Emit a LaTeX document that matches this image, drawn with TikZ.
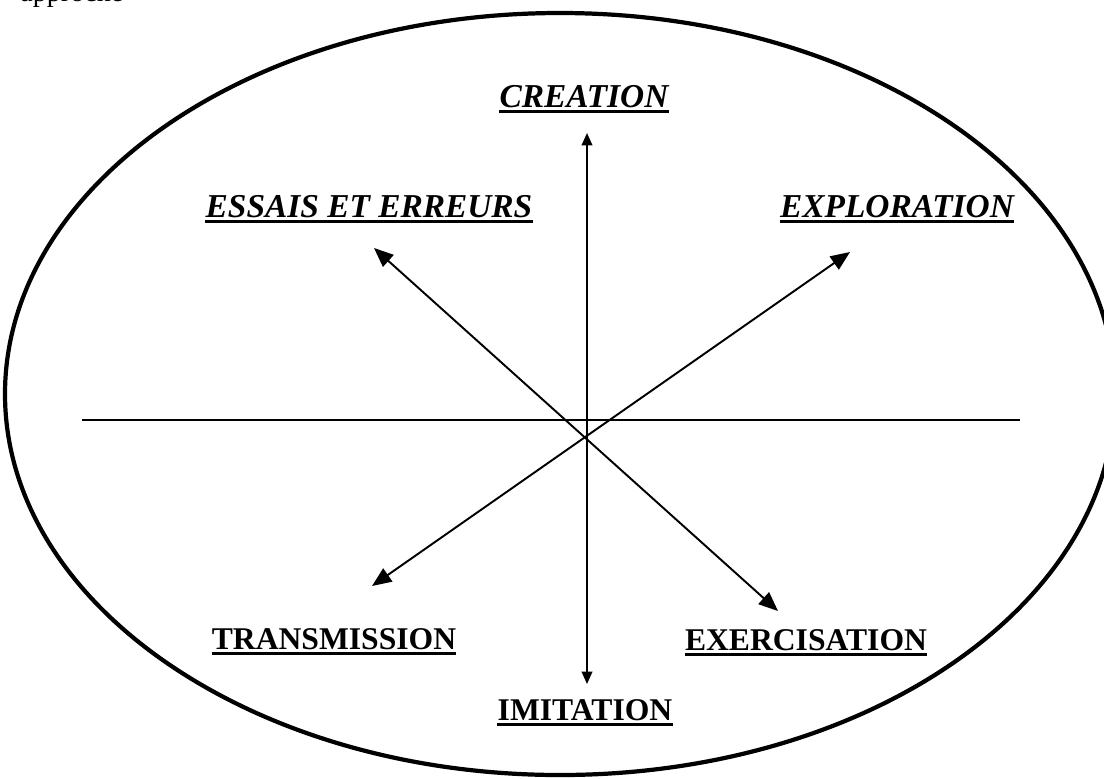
\documentclass[tikz,border=0pt]{standalone}
\usepackage{fontspec}
\setmainfont{Liberation Serif}
\usetikzlibrary{arrows.meta}
\tikzset{
  labit/.style={anchor=base,inner sep=0pt,font=\fontsize{19}{22}\selectfont\bfseries\itshape},
  labup/.style={anchor=base,inner sep=0pt,font=\fontsize{18}{21}\selectfont\bfseries},
  uline/.style={line width=1.3pt},
  smallarrow/.style={line width=1.1pt,{Triangle[length=7pt,width=6pt]}-{Triangle[length=7pt,width=6pt]}},
  bigarrow/.style={line width=1.1pt,{Triangle[length=11pt,width=9pt]}-{Triangle[length=11pt,width=9pt]}}
}
\begin{document}
\begin{tikzpicture}[x=0.02cm,y=-0.02cm]

      \useasboundingbox (0,0) rectangle (1104,778);

      % cut text at the top of the page
      \node[anchor=base west,inner sep=0pt,font=\fontsize{16}{18}\selectfont] (approche) at (20,1.5) {approche};

      \draw [line width=2.4pt] (560,394) ellipse [x radius=555, y radius=381];

      \node[labit] (creation) at (584,107) {CREATION};
      \node[labit] (essais) at (369,217) {ESSAIS ET ERREURS};
      \node[labit] (exploration) at (897,217) {EXPLORATION};
      \node[labup] (transmission) at (334,649) {TRANSMISSION};
      \node[labup] (exercisation) at (806,650) {EXERCISATION};
      \node[labup] (imitation) at (585,720) {IMITATION};

      % underlines
      \foreach \n in {creation,essais,exploration,transmission,exercisation,imitation}
        \draw [uline] ([yshift=-2.6pt]\n.base west) -- ([yshift=-2.6pt]\n.base east);

      \coordinate (west) at (82,420);
      \coordinate (east) at (1020,420);
      \coordinate (up) at (587,133);
      \coordinate (down) at (587,684);
      \coordinate (essais-tip) at (374,248);
      \coordinate (exercisation-tip) at (778,611);
      \coordinate (transmission-tip) at (372,586);
      \coordinate (exploration-tip) at (850,252);

      \draw [line width=1.1pt] (west) -- (east);
      \draw [smallarrow] (up) -- (down);
      \draw [bigarrow] (essais-tip) -- (exercisation-tip);
      \draw [bigarrow] (transmission-tip) -- (exploration-tip);

    \end{tikzpicture}
\end{document}
